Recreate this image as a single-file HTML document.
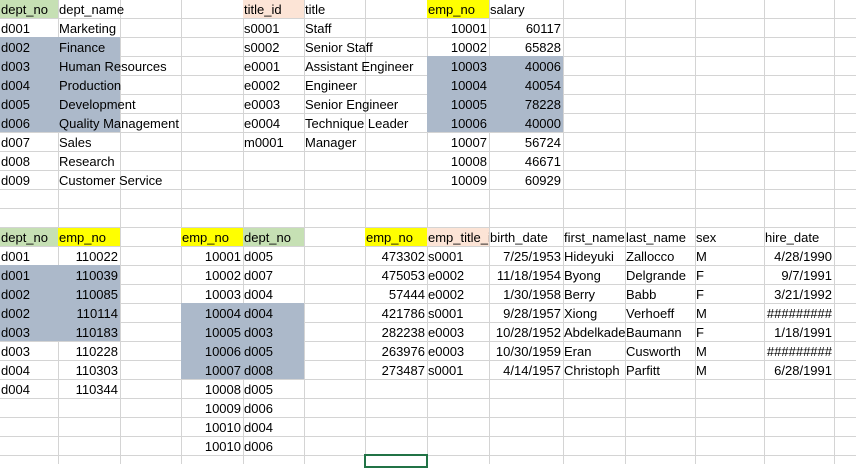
<!DOCTYPE html>
<html><head><meta charset="utf-8"><style>
body{margin:0;width:856px;height:464px;overflow:hidden;background:#fff;position:relative;font-family:"Liberation Sans",sans-serif;font-size:13px;color:#000}
.v{position:absolute;top:0;width:1px;height:464px;background:#d4d4d4}
.h{position:absolute;left:0;width:856px;height:1px;background:#d4d4d4}
.f{position:absolute}
.t{position:absolute;height:19px;line-height:22px;white-space:nowrap;padding:0 2px 0 1px;box-sizing:border-box}
.r{text-align:right;padding:0 2px}
.clip{overflow:hidden}
.a{left:0;width:58px}.b{left:58px;width:62px}.c{left:120px;width:61px}.d{left:181px;width:62px}.e{left:243px;width:61px}.ff{left:304px;width:61px}.g{left:365px;width:62px}.hh{left:427px;width:62px}.i{left:489px;width:74px}.j{left:563px;width:62px}.k{left:625px;width:70px}.l{left:695px;width:69px}.m{left:764px;width:70px}
</style></head><body>
<div class="v" style="left:58px"></div><div class="v" style="left:120px"></div><div class="v" style="left:181px"></div><div class="v" style="left:243px"></div><div class="v" style="left:304px"></div><div class="v" style="left:365px"></div><div class="v" style="left:427px"></div><div class="v" style="left:489px"></div><div class="v" style="left:563px"></div><div class="v" style="left:625px"></div><div class="v" style="left:695px"></div><div class="v" style="left:764px"></div><div class="v" style="left:834px"></div>
<div class="h" style="top:18px"></div><div class="h" style="top:37px"></div><div class="h" style="top:56px"></div><div class="h" style="top:75px"></div><div class="h" style="top:94px"></div><div class="h" style="top:113px"></div><div class="h" style="top:132px"></div><div class="h" style="top:151px"></div><div class="h" style="top:170px"></div><div class="h" style="top:189px"></div><div class="h" style="top:208px"></div><div class="h" style="top:227px"></div><div class="h" style="top:246px"></div><div class="h" style="top:265px"></div><div class="h" style="top:284px"></div><div class="h" style="top:303px"></div><div class="h" style="top:322px"></div><div class="h" style="top:341px"></div><div class="h" style="top:360px"></div><div class="h" style="top:379px"></div><div class="h" style="top:398px"></div><div class="h" style="top:417px"></div><div class="h" style="top:436px"></div><div class="h" style="top:455px"></div>

<div class="f" style="left:0;top:0;width:58px;height:18px;background:#c6e0b4"></div>
<div class="f" style="left:243px;top:0;width:61px;height:18px;background:#fce4d6"></div>
<div class="f" style="left:427px;top:0;width:62px;height:18px;background:#ffff00"></div>
<div class="f" style="left:0;top:37px;width:120px;height:95px;background:#acb9ca"></div>
<div class="f" style="left:427px;top:56px;width:136px;height:76px;background:#acb9ca"></div>
<div class="f" style="left:0;top:228px;width:58px;height:18px;background:#c6e0b4"></div>
<div class="f" style="left:58px;top:228px;width:62px;height:18px;background:#ffff00"></div>
<div class="f" style="left:181px;top:228px;width:62px;height:18px;background:#ffff00"></div>
<div class="f" style="left:243px;top:228px;width:61px;height:18px;background:#c6e0b4"></div>
<div class="f" style="left:365px;top:228px;width:62px;height:18px;background:#ffff00"></div>
<div class="f" style="left:427px;top:228px;width:62px;height:18px;background:#fce4d6"></div>
<div class="f" style="left:0;top:265px;width:120px;height:76px;background:#acb9ca"></div>
<div class="f" style="left:181px;top:303px;width:123px;height:76px;background:#acb9ca"></div>
<div class="f" style="left:364px;top:454px;width:64px;border:2px solid #217346;box-sizing:border-box;height:14px"></div>

<div class="t a" style="top:-1px">dept_no</div><div class="t b" style="top:-1px">dept_name</div>
<div class="t a" style="top:18px">d001</div><div class="t b" style="top:18px">Marketing</div>
<div class="t a" style="top:37px">d002</div><div class="t b" style="top:37px">Finance</div>
<div class="t a" style="top:56px">d003</div><div class="t b" style="top:56px">Human Resources</div>
<div class="t a" style="top:75px">d004</div><div class="t b" style="top:75px">Production</div>
<div class="t a" style="top:94px">d005</div><div class="t b" style="top:94px">Development</div>
<div class="t a" style="top:113px">d006</div><div class="t b" style="top:113px">Quality Management</div>
<div class="t a" style="top:132px">d007</div><div class="t b" style="top:132px">Sales</div>
<div class="t a" style="top:151px">d008</div><div class="t b" style="top:151px">Research</div>
<div class="t a" style="top:170px">d009</div><div class="t b" style="top:170px">Customer Service</div>

<div class="t e" style="top:-1px">title_id</div><div class="t ff" style="top:-1px">title</div>
<div class="t e" style="top:18px">s0001</div><div class="t ff" style="top:18px">Staff</div>
<div class="t e" style="top:37px">s0002</div><div class="t ff" style="top:37px">Senior Staff</div>
<div class="t e" style="top:56px">e0001</div><div class="t ff" style="top:56px">Assistant Engineer</div>
<div class="t e" style="top:75px">e0002</div><div class="t ff" style="top:75px">Engineer</div>
<div class="t e" style="top:94px">e0003</div><div class="t ff" style="top:94px">Senior Engineer</div>
<div class="t e" style="top:113px">e0004</div><div class="t ff" style="top:113px">Technique Leader</div>
<div class="t e" style="top:132px">m0001</div><div class="t ff" style="top:132px">Manager</div>

<div class="t hh" style="top:-1px">emp_no</div><div class="t i" style="top:-1px">salary</div>
<div class="t hh r" style="top:18px">10001</div><div class="t i r" style="top:18px">60117</div>
<div class="t hh r" style="top:37px">10002</div><div class="t i r" style="top:37px">65828</div>
<div class="t hh r" style="top:56px">10003</div><div class="t i r" style="top:56px">40006</div>
<div class="t hh r" style="top:75px">10004</div><div class="t i r" style="top:75px">40054</div>
<div class="t hh r" style="top:94px">10005</div><div class="t i r" style="top:94px">78228</div>
<div class="t hh r" style="top:113px">10006</div><div class="t i r" style="top:113px">40000</div>
<div class="t hh r" style="top:132px">10007</div><div class="t i r" style="top:132px">56724</div>
<div class="t hh r" style="top:151px">10008</div><div class="t i r" style="top:151px">46671</div>
<div class="t hh r" style="top:170px">10009</div><div class="t i r" style="top:170px">60929</div>

<div class="t a" style="top:227px">dept_no</div><div class="t b" style="top:227px">emp_no</div>
<div class="t a" style="top:246px">d001</div><div class="t b r" style="top:246px">110022</div>
<div class="t a" style="top:265px">d001</div><div class="t b r" style="top:265px">110039</div>
<div class="t a" style="top:284px">d002</div><div class="t b r" style="top:284px">110085</div>
<div class="t a" style="top:303px">d002</div><div class="t b r" style="top:303px">110114</div>
<div class="t a" style="top:322px">d003</div><div class="t b r" style="top:322px">110183</div>
<div class="t a" style="top:341px">d003</div><div class="t b r" style="top:341px">110228</div>
<div class="t a" style="top:360px">d004</div><div class="t b r" style="top:360px">110303</div>
<div class="t a" style="top:379px">d004</div><div class="t b r" style="top:379px">110344</div>

<div class="t d" style="top:227px">emp_no</div><div class="t e" style="top:227px">dept_no</div>
<div class="t d r" style="top:246px">10001</div><div class="t e" style="top:246px">d005</div>
<div class="t d r" style="top:265px">10002</div><div class="t e" style="top:265px">d007</div>
<div class="t d r" style="top:284px">10003</div><div class="t e" style="top:284px">d004</div>
<div class="t d r" style="top:303px">10004</div><div class="t e" style="top:303px">d004</div>
<div class="t d r" style="top:322px">10005</div><div class="t e" style="top:322px">d003</div>
<div class="t d r" style="top:341px">10006</div><div class="t e" style="top:341px">d005</div>
<div class="t d r" style="top:360px">10007</div><div class="t e" style="top:360px">d008</div>
<div class="t d r" style="top:379px">10008</div><div class="t e" style="top:379px">d005</div>
<div class="t d r" style="top:398px">10009</div><div class="t e" style="top:398px">d006</div>
<div class="t d r" style="top:417px">10010</div><div class="t e" style="top:417px">d004</div>
<div class="t d r" style="top:436px">10010</div><div class="t e" style="top:436px">d006</div>

<div class="t g" style="top:227px">emp_no</div><div class="t hh clip" style="top:227px">emp_title_id</div><div class="t i" style="top:227px">birth_date</div><div class="t j clip" style="top:227px">first_name</div><div class="t k" style="top:227px">last_name</div><div class="t l" style="top:227px">sex</div><div class="t m" style="top:227px">hire_date</div>
<div class="t g r" style="top:246px">473302</div><div class="t hh" style="top:246px">s0001</div><div class="t i r" style="top:246px">7/25/1953</div><div class="t j" style="top:246px">Hideyuki</div><div class="t k" style="top:246px">Zallocco</div><div class="t l" style="top:246px">M</div><div class="t m r" style="top:246px">4/28/1990</div>
<div class="t g r" style="top:265px">475053</div><div class="t hh" style="top:265px">e0002</div><div class="t i r" style="top:265px">11/18/1954</div><div class="t j" style="top:265px">Byong</div><div class="t k" style="top:265px">Delgrande</div><div class="t l" style="top:265px">F</div><div class="t m r" style="top:265px">9/7/1991</div>
<div class="t g r" style="top:284px">57444</div><div class="t hh" style="top:284px">e0002</div><div class="t i r" style="top:284px">1/30/1958</div><div class="t j" style="top:284px">Berry</div><div class="t k" style="top:284px">Babb</div><div class="t l" style="top:284px">F</div><div class="t m r" style="top:284px">3/21/1992</div>
<div class="t g r" style="top:303px">421786</div><div class="t hh" style="top:303px">s0001</div><div class="t i r" style="top:303px">9/28/1957</div><div class="t j" style="top:303px">Xiong</div><div class="t k" style="top:303px">Verhoeff</div><div class="t l" style="top:303px">M</div><div class="t m r clip" style="top:303px">#########</div>
<div class="t g r" style="top:322px">282238</div><div class="t hh" style="top:322px">e0003</div><div class="t i r" style="top:322px">10/28/1952</div><div class="t j clip" style="top:322px">Abdelkader</div><div class="t k" style="top:322px">Baumann</div><div class="t l" style="top:322px">F</div><div class="t m r" style="top:322px">1/18/1991</div>
<div class="t g r" style="top:341px">263976</div><div class="t hh" style="top:341px">e0003</div><div class="t i r" style="top:341px">10/30/1959</div><div class="t j" style="top:341px">Eran</div><div class="t k" style="top:341px">Cusworth</div><div class="t l" style="top:341px">M</div><div class="t m r clip" style="top:341px">#########</div>
<div class="t g r" style="top:360px">273487</div><div class="t hh" style="top:360px">s0001</div><div class="t i r" style="top:360px">4/14/1957</div><div class="t j clip" style="top:360px">Christoph</div><div class="t k" style="top:360px">Parfitt</div><div class="t l" style="top:360px">M</div><div class="t m r" style="top:360px">6/28/1991</div>
</body></html>
